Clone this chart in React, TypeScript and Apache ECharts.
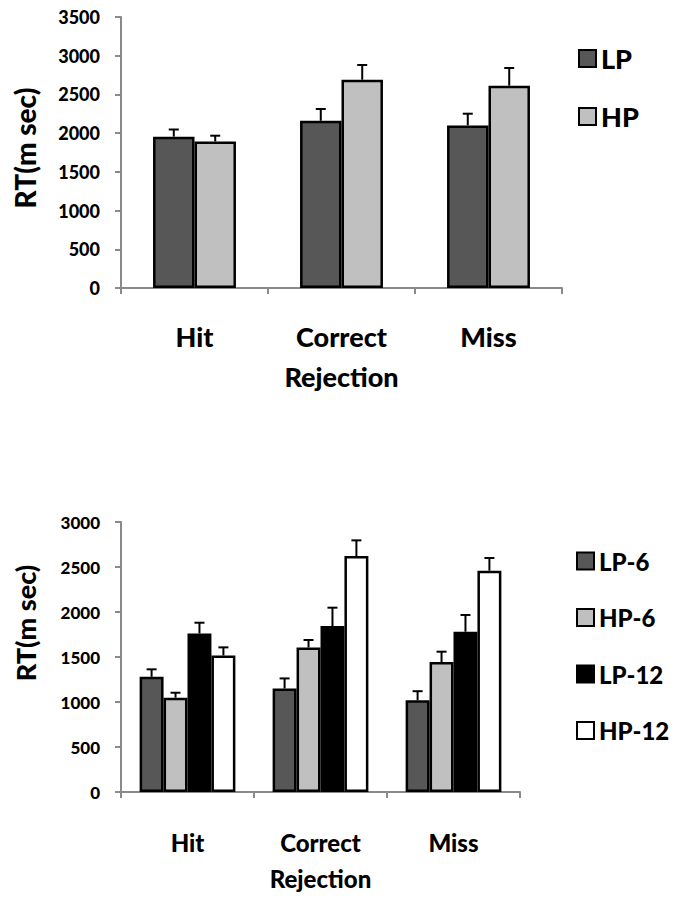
import React, { useEffect, useRef } from "react";
import * as echarts from "echarts";

const categories = ["Hit", "Correct\nRejection", "Miss"];
const yTitle = "RT(m sec)";

// Top chart
const topNames = ["LP", "HP"];
const topLP = [1955, 2160, 2100];
const topLPErr = [92, 152, 151];
const topHP = [1893, 2690, 2613];
const topHPErr = [74, 190, 228];
const topMax = 3500;

// Bottom chart
const botNames = ["LP-6", "HP-6", "LP-12", "HP-12"];
const botLP6 = [1280, 1150, 1020];
const botLP6Err = [83, 112, 100];
const botHP6 = [1048, 1605, 1444];
const botHP6Err = [55, 84, 115];
const botLP12 = [1762, 1844, 1781];
const botLP12Err = [119, 204, 186];
const botHP12 = [1517, 2622, 2459];
const botHP12Err = [90, 174, 141];
const botMax = 3000;

const colors = ["#575757", "#c0c0c0", "#000000", "#ffffff"];
const FONT = "Lato";
const AXIS_GRAY = "#8a8a8a";

function App() {
  const ref = useRef<HTMLDivElement>(null);
  useEffect(() => {
    document.body.style.margin = "0";
    const chart = echarts.init(ref.current!, null, { renderer: "svg" });

    const topGap = 0.436;
    const botGap = 0.28;

    const makeBars = (names: string[], vals: number[][], gridIdx: number, gap: number) =>
      names.map((n, i) => ({
        type: "bar",
        name: n,
        xAxisIndex: gridIdx,
        yAxisIndex: gridIdx,
        data: vals[i],
        barGap: "0%",
        barCategoryGap: `${gap * 100}%`,
        itemStyle: { color: colors[i], borderColor: "#000", borderWidth: 2.5 },
        z: 2,
      }));

    const makeErr = (
      vals: number[][],
      errs: number[][],
      gridIdx: number,
      gap: number
    ) => {
      const n = vals.length;
      return vals.map((v, i) => ({
        type: "custom",
        xAxisIndex: gridIdx,
        yAxisIndex: gridIdx,
        z: 5,
        encode: { x: 0, y: [1, 2] },
        data: v.map((val, ci) => [ci, val, val + errs[i][ci]]),
        renderItem: (params: any, api: any) => {
          const ci = api.value(0);
          const val = api.value(1);
          const top = api.value(2);
          const p0 = api.coord([ci, val]);
          const p1 = api.coord([ci, top]);
          const catW = api.size([1, 0])[0];
          const groupW = catW * (1 - gap);
          const barW = groupW / n;
          const x = p0[0] - groupW / 2 + (i + 0.5) * barW;
          const style = { stroke: "#000", lineWidth: 2 };
          return {
            type: "group",
            children: [
              { type: "line", shape: { x1: x, y1: p0[1], x2: x, y2: p1[1] }, style },
              { type: "line", shape: { x1: x - 5, y1: p1[1], x2: x + 5, y2: p1[1] }, style },
            ],
          };
        },
      }));
    };

    const xAxisBase = (gridIndex: number, fontSize: number, margin: number, lh: number) => ({
      type: "category",
      gridIndex,
      data: categories,
      boundaryGap: true,
      axisLine: { lineStyle: { color: AXIS_GRAY, width: 2 } },
      axisTick: { show: true, length: 6, interval: 0, lineStyle: { color: AXIS_GRAY, width: 2 } },
      axisLabel: {
        interval: 0,
        margin,
        color: "#000",
        fontFamily: FONT,
        fontWeight: 900,
        fontSize,
        lineHeight: lh,
      },
    });

    const yAxisBase = (gridIndex: number, max: number, fontSize: number) => ({
      type: "value",
      gridIndex,
      min: 0,
      max,
      interval: 500,
      axisLine: { show: true, lineStyle: { color: AXIS_GRAY, width: 2 } },
      axisTick: { show: true, length: 6, lineStyle: { color: AXIS_GRAY, width: 2 } },
      splitLine: { show: false },
      axisLabel: {
        margin: 21,
        color: "#000",
        fontFamily: FONT,
        fontWeight: 900,
        fontSize,
        formatter: (v: number) => String(v),
      },
    });

    const legendText = (size: number) => ({
      color: "#000",
      fontFamily: FONT,
      fontWeight: 900,
      fontSize: size,
      lineHeight: 17,
    });

    const option: any = {
      animation: false,
      backgroundColor: "#fff",
      grid: [
        { left: 121, top: 17, width: 441, height: 271 },
        { left: 121, top: 522, width: 399, height: 270 },
      ],
      xAxis: [xAxisBase(0, 27, 28, 40), xAxisBase(1, 24, 32, 36)],
      yAxis: [yAxisBase(0, topMax, 18), yAxisBase(1, botMax, 17)],
      legend: [
        {
          data: topNames,
          orient: "vertical",
          left: 573,
          top: 40,
          icon: "rect",
          itemWidth: 17,
          itemHeight: 17,
          itemGap: 31,
          textStyle: legendText(27),
        },
        {
          data: botNames,
          orient: "vertical",
          left: 571,
          top: 544,
          icon: "rect",
          itemWidth: 17,
          itemHeight: 17,
          itemGap: 32.5,
          textStyle: legendText(24),
        },
      ],
      graphic: [
        {
          type: "text",
          x: 25,
          y: 148,
          rotation: Math.PI / 2,
          style: {
            text: yTitle,
            align: "center",
            verticalAlign: "middle",
            fill: "#000",
            font: `900 28px ${FONT}`,
          },
        },
        {
          type: "text",
          x: 25,
          y: 623,
          rotation: Math.PI / 2,
          style: {
            text: yTitle,
            align: "center",
            verticalAlign: "middle",
            fill: "#000",
            font: `900 27px ${FONT}`,
          },
        },
      ],
      series: [
        ...makeBars(topNames, [topLP, topHP], 0, topGap),
        ...makeErr([topLP, topHP], [topLPErr, topHPErr], 0, topGap),
        ...makeBars(botNames, [botLP6, botHP6, botLP12, botHP12], 1, botGap),
        ...makeErr(
          [botLP6, botHP6, botLP12, botHP12],
          [botLP6Err, botHP6Err, botLP12Err, botHP12Err],
          1,
          botGap
        ),
      ],
    };
    chart.setOption(option);
    return () => chart.dispose();
  }, []);
  return <div ref={ref} style={{ width: 679, height: 903 }} />;
}

export default App;
